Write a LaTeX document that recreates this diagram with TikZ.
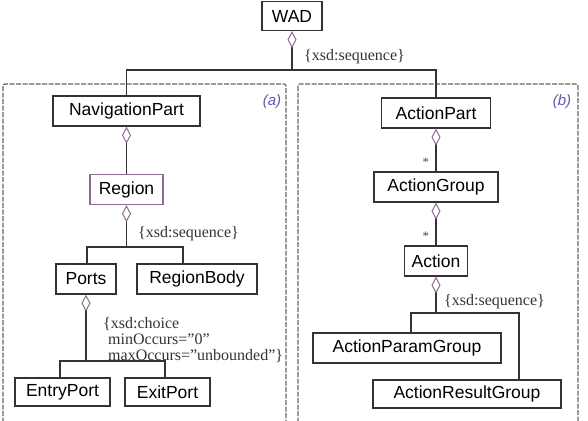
\documentclass[tikz,border=0pt]{standalone}
\usepackage{fontspec}
\setmainfont{Liberation Serif}
\setsansfont{Liberation Sans}
\usetikzlibrary{arrows.meta}
\definecolor{aggcol}{HTML}{8E6A90}
\definecolor{tagcol}{HTML}{5C5CA8}
\definecolor{linecol}{HTML}{333333}

\begin{document}
\begin{tikzpicture}[x=1pt,y=-1pt,
  cls/.style={draw=linecol, line width=1.3pt, minimum height=30pt, inner sep=0pt,
    font=\sffamily\fontsize{17.5}{18}\selectfont},
  agg/.style={draw=linecol, line width=1.3pt,
    {Diamond[open,length=17pt,width=9pt,color=aggcol,line width=1pt]}-},
  link/.style={draw=linecol, line width=1.3pt},
  note/.style={font=\rmfamily\fontsize{16}{16}\selectfont, text=black!80, inner sep=0pt, anchor=west},
  part/.style={draw=black!60, dash pattern=on 5pt off 1.5pt, line width=1.2pt, rounded corners=2pt},
  tag/.style={font=\sffamily\itshape\fontsize{15}{15}\selectfont, text=tagcol},
  mult/.style={font=\rmfamily\fontsize{13}{13}\selectfont, text=black!70}]
  \useasboundingbox (0,0) rectangle (588,420);
  \clip (0,0) rectangle (588,420);

  % the two parts
  \draw[part] (3,84) rectangle (286,430);
  \draw[part] (298,84) rectangle (578,430);
  \node[tag] (taga) at (272,102) {(a)};
  \node[tag] (tagb) at (562,102) {(b)};

  \node[cls, minimum width=60pt, minimum height=29pt] (wad) at (292,16) {WAD};

  % navigation part
  \node[cls, minimum width=147pt] (nav) at (126.5,111) {NavigationPart};
  \node[cls, minimum width=73pt, draw=aggcol] (region) at (126.5,189.5) {Region};
  \node[cls, minimum width=60pt] (ports) at (86,279) {Ports};
  \node[cls, minimum width=120pt] (rbody) at (197,279) {RegionBody};
  \node[cls, minimum width=95pt, minimum height=28pt] (entry) at (62.5,392) {EntryPort};
  \node[cls, minimum width=85pt, minimum height=28pt] (exit) at (167.5,392) {ExitPort};

  % action part
  \node[cls, minimum width=109pt] (apart) at (436,113) {ActionPart};
  \node[cls, minimum width=124pt] (agroup) at (436,187) {ActionGroup};
  \node[cls, minimum width=63pt] (action) at (436,261) {Action};
  \node[cls, minimum width=188pt] (param) at (407,348) {ActionParamGroup};
  \node[cls, minimum width=188pt, minimum height=28pt] (result) at (467,394) {ActionResultGroup};

  % forks
  \coordinate (wadfork) at (292,70);
  \coordinate (regfork) at (126.5,247);
  \coordinate (portfork) at (86,361);
  \coordinate (actfork) at (436,313);

  \draw[agg] (wad) -- (wadfork);
  \draw[link] (nav.north) |- (wadfork) -| (apart.north);
  \node[note] (seqa) at (304,57) {\{xsd:sequence\}};

  \draw[agg] (nav) -- (region);
  \draw[agg] (region) -- (regfork);
  \draw[link] ([xshift=1pt]ports.north) |- (regfork) -| ([xshift=-14pt]rbody.north);
  \node[note] (seqb) at (138,234) {\{xsd:sequence\}};

  \draw[agg] (ports) -- (portfork);
  \draw[link] ([xshift=-2.5pt]entry.north) |- (portfork) -| ([xshift=-2.5pt]exit.north);
  \node[note, anchor=north west, align=left] (choice) at (103,317)
    {\{xsd:choice\\\hspace*{5pt}minOccurs=\symbol{"22}0\symbol{"22}\\
     \hspace*{5pt}maxOccurs=\symbol{"22}unbounded\symbol{"22}\}};

  \draw[agg] (apart) -- (agroup) node[mult, pos=0.78, left=3pt] {*};
  \draw[agg] (agroup) -- (action) node[mult, pos=0.78, left=3pt] {*};
  \draw[agg] (action) -- (actfork);
  \draw[link] ([xshift=4pt]param.north) |- (actfork) -| ([xshift=52pt]result.north);
  \node[note] (seqc) at (444,302) {\{xsd:sequence\}};
\end{tikzpicture}
\end{document}
